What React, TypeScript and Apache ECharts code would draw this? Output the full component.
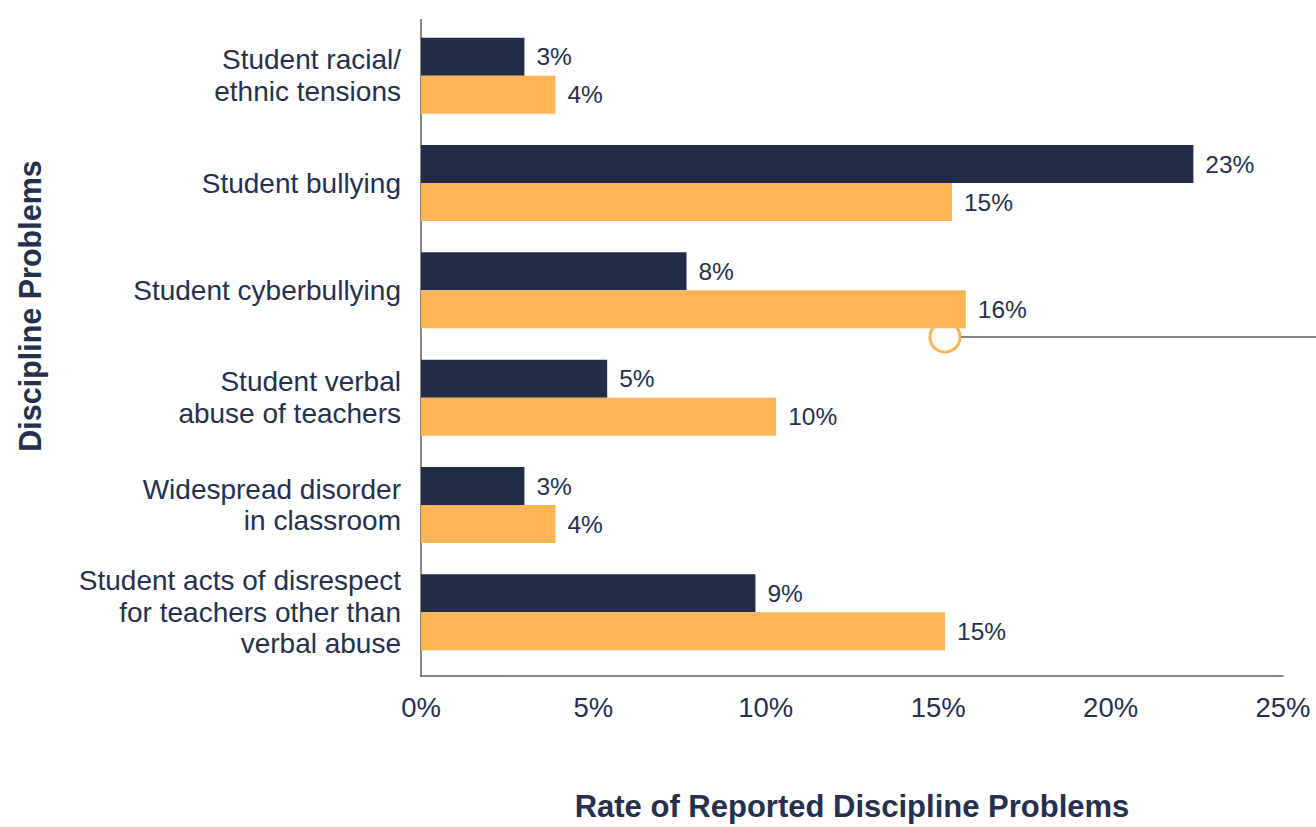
import React, { useEffect, useRef } from "react";
import * as echarts from "echarts";

const categories = [
  "Student racial/\nethnic tensions",
  "Student bullying",
  "Student cyberbullying",
  "Student verbal\nabuse of teachers",
  "Widespread disorder\nin classroom",
  "Student acts of disrespect\nfor teachers other than\nverbal abuse",
];
const darkValues = [3.0, 22.4, 7.7, 5.4, 3.0, 9.7];
const orangeValues = [3.9, 15.4, 15.8, 10.3, 3.9, 15.2];
const darkLabels = [3, 23, 8, 5, 3, 9];
const orangeLabels = [4, 15, 16, 10, 4, 15];
const xTicks = [0, 5, 10, 15, 20, 25];

const TEXT = "#26304d";
const DARK = "#222c46";
const ORANGE = "#fdb456";
const FONT = "Liberation Sans";

export default function App() {
  const ref = useRef<HTMLDivElement>(null);
  useEffect(() => {
    if (!ref.current) return;
    const chart = echarts.init(ref.current, null, { renderer: "svg" });
    const makeLabel = (labels: number[]) => ({
      show: true,
      position: "right" as const,
      distance: 12,
      color: TEXT,
      fontSize: 24.5,
      fontFamily: FONT,
      formatter: (p: any) => labels[p.dataIndex] + "%",
    });
    chart.setOption({
      animation: false,
      backgroundColor: "#ffffff",
      textStyle: { fontFamily: FONT },
      grid: { left: 421, right: 33, top: 22, bottom: 160, containLabel: false },
      xAxis: {
        type: "value",
        min: xTicks[0],
        max: xTicks[xTicks.length - 1],
        interval: 5,
        offset: 10,
        axisLine: { show: true, lineStyle: { color: "#5f5f5f", width: 1.5 } },
        axisTick: { show: false },
        splitLine: { show: false },
        axisLabel: {
          formatter: "{value}%",
          color: TEXT,
          fontSize: 27.5,
          fontFamily: FONT,
          margin: 17,
        },
        name: "Rate of Reported Discipline Problems",
        nameLocation: "middle",
        nameGap: 115,
        nameTextStyle: { color: TEXT, fontSize: 31, fontWeight: "bold", fontFamily: FONT },
      },
      yAxis: {
        type: "category",
        data: categories,
        inverse: true,
        axisLine: { show: false },
        axisTick: { show: false },
        axisLabel: {
          color: TEXT,
          fontSize: 28,
          fontFamily: FONT,
          margin: 20,
          lineHeight: 31.5,
          align: "right",
        },
      },
      graphic: [
        {
          type: "circle",
          z: 0,
          shape: { cx: 945, cy: 337, r: 15 },
          style: { fill: "#ffffff", stroke: ORANGE, lineWidth: 3 },
        },
        {
          type: "line",
          z: 0,
          shape: { x1: 961, y1: 337, x2: 1316, y2: 337 },
          style: { stroke: "#5f5f5f", lineWidth: 1.5 },
        },
        {
          type: "line",
          shape: { x1: 421, y1: 19, x2: 421, y2: 677 },
          style: { stroke: "#5f5f5f", lineWidth: 1.5 },
        },
        {
          type: "text",
          x: 30,
          y: 306,
          rotation: Math.PI / 2,
          style: {
            text: "Discipline Problems",
            fill: TEXT,
            font: `bold 30.5px ${FONT}`,
            align: "center",
            verticalAlign: "middle",
          },
        },
      ],
      series: [
        {
          type: "bar",
          data: darkValues,
          barWidth: 38,
          barGap: "0%",
          itemStyle: { color: DARK },
          label: makeLabel(darkLabels),
          z: 3,
        },
        {
          type: "bar",
          data: orangeValues,
          barWidth: 38,
          barGap: "0%",
          itemStyle: { color: ORANGE },
          label: makeLabel(orangeLabels),
          z: 3,
        },
      ],
    });
    return () => chart.dispose();
  }, []);
  return <div ref={ref} style={{ width: 1316, height: 827, position: "absolute", left: 0, top: 0 }} />;
}
